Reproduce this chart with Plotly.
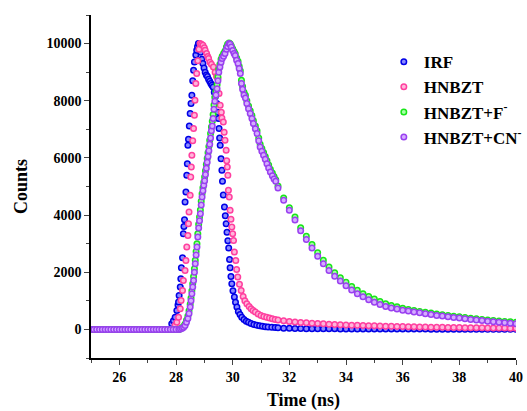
import numpy as np
import plotly.graph_objects as go

# ---------------- data ----------------
# shared time channels (ns)
T_PRE = np.round(np.arange(25.0, 27.81, 0.1), 2)      # flat baseline
T_TAIL = np.round(np.arange(31.6, 40.01, 0.2), 2)     # decay tails

PRE_ZERO = [0, 0, 0, 0, 0, 0, 0, 0, 0, 0, 0, 0, 0, 0, 0, 0, 0, 0, 0, 0,
            0, 0, 0, 0, 0, 0, 0, 0, 0]

# peak regions: (time ns, counts)
IRF_PEAK = [(27.85, 200), (27.91, 300), (27.97, 430), (28.03, 665), (28.07, 850),
            (28.09, 955), (28.11, 1190), (28.15, 1480), (28.17, 1775), (28.19, 2160),
            (28.23, 2510), (28.26, 3350), (28.28, 3600), (28.30, 3840), (28.32, 4456),
            (28.35, 4806), (28.38, 5390), (28.40, 5800), (28.42, 6440), (28.44, 6650),
            (28.47, 7115), (28.50, 7550), (28.53, 7900), (28.56, 8190), (28.59, 8700),
            (28.62, 9065), (28.65, 9356), (28.70, 9600), (28.73, 9765), (28.76, 9900),
            (28.79, 10000), (28.83, 9950), (28.87, 9700), (28.91, 9450), (28.95, 9300),
            (28.99, 9150), (29.03, 9000), (29.07, 8900), (29.11, 8850), (29.15, 8750),
            (29.19, 8680), (29.23, 8600), (29.27, 8540), (29.31, 8480), (29.35, 8300),
            (29.39, 8150), (29.44, 7900), (29.47, 7600), (29.50, 7375), (29.52, 7025),
            (29.54, 6700), (29.56, 6440), (29.59, 5975), (29.62, 5565), (29.64, 5180),
            (29.67, 4700), (29.71, 4280), (29.74, 3980), (29.77, 3700), (29.80, 3400),
            (29.83, 3100), (29.86, 2850), (29.89, 2450), (29.91, 2160), (29.94, 1850),
            (29.97, 1600), (30.01, 1350), (30.06, 1130), (30.10, 950), (30.15, 780),
            (30.20, 630), (30.26, 520), (30.32, 430), (30.40, 350), (30.48, 290),
            (30.56, 255), (30.65, 210), (30.75, 175), (30.85, 150), (30.95, 130),
            (31.05, 110), (31.15, 95), (31.25, 85), (31.38, 75), (31.50, 65)]

HNBZT_PEAK = [(27.90, 0), (27.97, 150), (28.03, 255), (28.09, 430), (28.15, 725),
              (28.18, 1015), (28.23, 1365), (28.26, 1715), (28.32, 2065), (28.35, 2415),
              (28.38, 2880), (28.42, 3290), (28.44, 3700), (28.46, 4106), (28.50, 4690),
              (28.52, 5330), (28.54, 5680), (28.56, 6090), (28.59, 6600), (28.62, 7025),
              (28.65, 7490), (28.67, 8015), (28.70, 8600), (28.73, 8950), (28.77, 9400),
              (28.81, 9800), (28.85, 10000), (28.90, 9980), (28.95, 9940), (29.00, 9850),
              (29.03, 9765), (29.08, 9650), (29.12, 9550), (29.15, 9475), (29.20, 9350),
              (29.25, 9280), (29.32, 9180), (29.38, 9000), (29.43, 8850), (29.48, 8775),
              (29.52, 8250), (29.56, 7840), (29.60, 7600), (29.62, 7400), (29.67, 7255),
              (29.70, 6900), (29.73, 6615), (29.77, 6265), (29.79, 5900), (29.81, 5680),
              (29.83, 5390), (29.85, 4865), (29.88, 4630), (29.91, 4165), (29.94, 3850),
              (29.97, 3580), (30.00, 3350), (30.03, 3115), (30.06, 2705), (30.11, 2415),
              (30.14, 2100), (30.18, 1830), (30.24, 1580), (30.30, 1365), (30.37, 1150),
              (30.43, 1000), (30.50, 900), (30.58, 800), (30.65, 720), (30.72, 660),
              (30.80, 605), (30.90, 540), (31.00, 490), (31.10, 455), (31.20, 430),
              (31.30, 400), (31.40, 370), (31.50, 345)]

F_PEAK = [(27.90, 0), (28.00, 0), (28.10, 0), (28.16, 25), (28.22, 60), (28.27, 110),
          (28.32, 190), (28.37, 320), (28.42, 470), (28.46, 650), (28.50, 880),
          (28.53, 1100), (28.56, 1350), (28.59, 1600), (28.62, 1850), (28.65, 2120),
          (28.68, 2420), (28.71, 2730), (28.74, 3000), (28.77, 3350), (28.80, 3680),
          (28.83, 3930), (28.86, 4180), (28.89, 4480), (28.92, 4750), (28.95, 4960),
          (28.98, 5150), (29.01, 5330), (29.04, 5550), (29.07, 5770), (29.10, 5980),
          (29.13, 6180), (29.16, 6400), (29.19, 6620), (29.22, 6850), (29.25, 7080),
          (29.28, 7280), (29.31, 7520), (29.34, 7850), (29.37, 8120), (29.41, 8330),
          (29.45, 8560), (29.48, 8830), (29.51, 9100), (29.55, 9280), (29.59, 9450),
          (29.63, 9560), (29.68, 9650), (29.73, 9740), (29.78, 9880), (29.82, 9980),
          (29.87, 10020), (29.91, 9990), (29.95, 9920), (30.00, 9820), (30.05, 9720),
          (30.09, 9640), (30.14, 9500), (30.19, 9380), (30.23, 9210), (30.27, 9050),
          (30.31, 8720), (30.35, 8500), (30.40, 8300), (30.45, 8190), (30.50, 8000),
          (30.56, 7820), (30.62, 7650), (30.68, 7480), (30.73, 7300), (30.80, 7120),
          (30.86, 6950), (30.92, 6700), (30.97, 6480), (31.03, 6330), (31.09, 6190),
          (31.15, 6050), (31.21, 5900), (31.27, 5750), (31.33, 5600), (31.40, 5470),
          (31.46, 5350), (31.52, 5240)]

CN_PEAK = [(27.90, 0), (28.00, 0), (28.10, 0), (28.16, 15), (28.22, 40), (28.27, 80),
           (28.32, 140), (28.37, 250), (28.42, 380), (28.46, 560), (28.50, 780),
           (28.53, 1000), (28.56, 1250), (28.59, 1480), (28.62, 1715), (28.65, 2000),
           (28.68, 2300), (28.71, 2600), (28.74, 2880), (28.77, 3230), (28.80, 3550),
           (28.83, 3800), (28.86, 4050), (28.89, 4350), (28.92, 4630), (28.95, 4850),
           (28.98, 5040), (29.01, 5200), (29.04, 5420), (29.07, 5640), (29.10, 5850),
           (29.13, 6050), (29.16, 6250), (29.19, 6480), (29.22, 6700), (29.25, 6950),
           (29.28, 7120), (29.31, 7380), (29.34, 7700), (29.37, 7980), (29.41, 8200),
           (29.45, 8420), (29.48, 8700), (29.51, 9000), (29.55, 9180), (29.59, 9350),
           (29.63, 9475), (29.68, 9560), (29.73, 9650), (29.78, 9800), (29.82, 9900),
           (29.87, 10000), (29.91, 9980), (29.95, 9880), (30.00, 9760), (30.05, 9650),
           (30.09, 9580), (30.14, 9420), (30.19, 9300), (30.23, 9130), (30.27, 8950),
           (30.31, 8600), (30.35, 8400), (30.40, 8200), (30.45, 8100), (30.50, 7900),
           (30.56, 7720), (30.62, 7550), (30.68, 7380), (30.73, 7200), (30.80, 7020),
           (30.86, 6850), (30.92, 6600), (30.97, 6380), (31.03, 6230), (31.09, 6090),
           (31.15, 5950), (31.21, 5800), (31.27, 5650), (31.33, 5505), (31.40, 5380),
           (31.46, 5260), (31.52, 5180)]

# tails on T_TAIL (31.6 ... 40.0 step 0.2)
IRF_TAIL = [55, 45, 38, 33, 29, 26, 24, 22, 21, 20, 19, 18, 17, 17, 16, 15, 15, 14,
            14, 13, 13, 12, 12, 12, 11, 11, 11, 10, 10, 10, 10, 9, 9, 9, 9, 8, 8, 8,
            8, 8, 7, 7, 7]
HNBZT_TAIL = [330, 300, 280, 260, 245, 230, 215, 205, 195, 185, 175, 165, 158, 150,
              143, 136, 130, 124, 118, 113, 108, 103, 99, 95, 91, 87, 83, 80, 77, 74,
              71, 68, 65, 62, 60, 57, 55, 53, 51, 49, 47, 45, 43]
F_TAIL = [5020, 4600, 4260, 3930, 3560, 3260, 2970, 2680, 2420, 2180, 1980, 1810, 1650,
          1500, 1370, 1250, 1150, 1060, 980, 900, 840, 790, 740, 700, 665, 630, 600,
          570, 540, 515, 490, 465, 440, 415, 395, 370, 350, 330, 310, 295, 280, 265, 250]
CN_TAIL = [4950, 4520, 4170, 3830, 3450, 3150, 2850, 2560, 2300, 2060, 1860, 1690, 1530,
           1380, 1250, 1140, 1040, 950, 870, 800, 750, 710, 670, 640, 610, 580, 550,
           520, 490, 470, 445, 420, 400, 375, 350, 330, 310, 290, 270, 255, 235, 220, 200]

SERIES = [
    ("IRF", IRF_PEAK, IRF_TAIL, "#0000e6", "#8a8aff"),
    ("HNBZT", HNBZT_PEAK, HNBZT_TAIL, "#ff3f9f", "#ffb6da"),
    ("HNBZT+F<sup>-</sup>", F_PEAK, F_TAIL, "#18e618", "#a8ffa8"),
    ("HNBZT+CN<sup>-</sup>", CN_PEAK, CN_TAIL, "#9a40f0", "#d4acff"),
]

FONT = "Liberation Serif"

fig = go.Figure()
for name, peak, tail, edge, fill in SERIES:
    pt, pv = zip(*peak)
    t = list(T_PRE) + list(pt) + list(T_TAIL)
    v = PRE_ZERO + list(pv) + list(tail)
    fig.add_trace(go.Scatter(
        x=t, y=v, mode="markers", name=name,
        marker=dict(symbol="circle", size=5.5, color=fill,
                    line=dict(color=edge, width=1.5)),
    ))

fig.update_layout(
    width=527, height=411,
    margin=dict(l=91, r=11, t=15, b=53, autoexpand=False),
    paper_bgcolor="white", plot_bgcolor="white",
    font=dict(family=FONT, color="black"),
    showlegend=True,
    legend=dict(x=0.689, y=0.915, xanchor="left", yanchor="top",
                bgcolor="rgba(0,0,0,0)", borderwidth=0,
                font=dict(family=FONT, size=17, weight="bold", color="black"),
                tracegroupgap=0),
)
fig.update_xaxes(
    range=[25, 40], tick0=26, dtick=2, ticks="outside", ticklen=5, tickwidth=1.3,
    showline=True, linecolor="black", linewidth=1.5, showgrid=False, zeroline=False,
    automargin=False,
    tickfont=dict(family=FONT, size=14, weight="bold"),
    minor=dict(dtick=1, tick0=25, ticks="outside", ticklen=3, tickwidth=1.2, showgrid=False),
    title=dict(text="Time (ns)", font=dict(family=FONT, size=18, weight="bold"), standoff=12),
)
fig.update_yaxes(
    range=[-1000, 11000], tick0=0, dtick=2000, tickformat="d",
    ticks="outside", ticklen=5, tickwidth=1.3,
    showline=True, linecolor="black", linewidth=1.5, showgrid=False, zeroline=False,
    automargin=False,
    tickfont=dict(family=FONT, size=14, weight="bold"),
    minor=dict(dtick=1000, ticks="outside", ticklen=3, tickwidth=1.2, showgrid=False),
    title=dict(text="Counts", font=dict(family=FONT, size=18, weight="bold"), standoff=14),
)

# remove the browser's default 8px body margin so the figure sits at (0, 0)
fig.write_html("out.html",
               config={"displayModeBar": False},
               post_script="document.body.style.margin='0px';")
